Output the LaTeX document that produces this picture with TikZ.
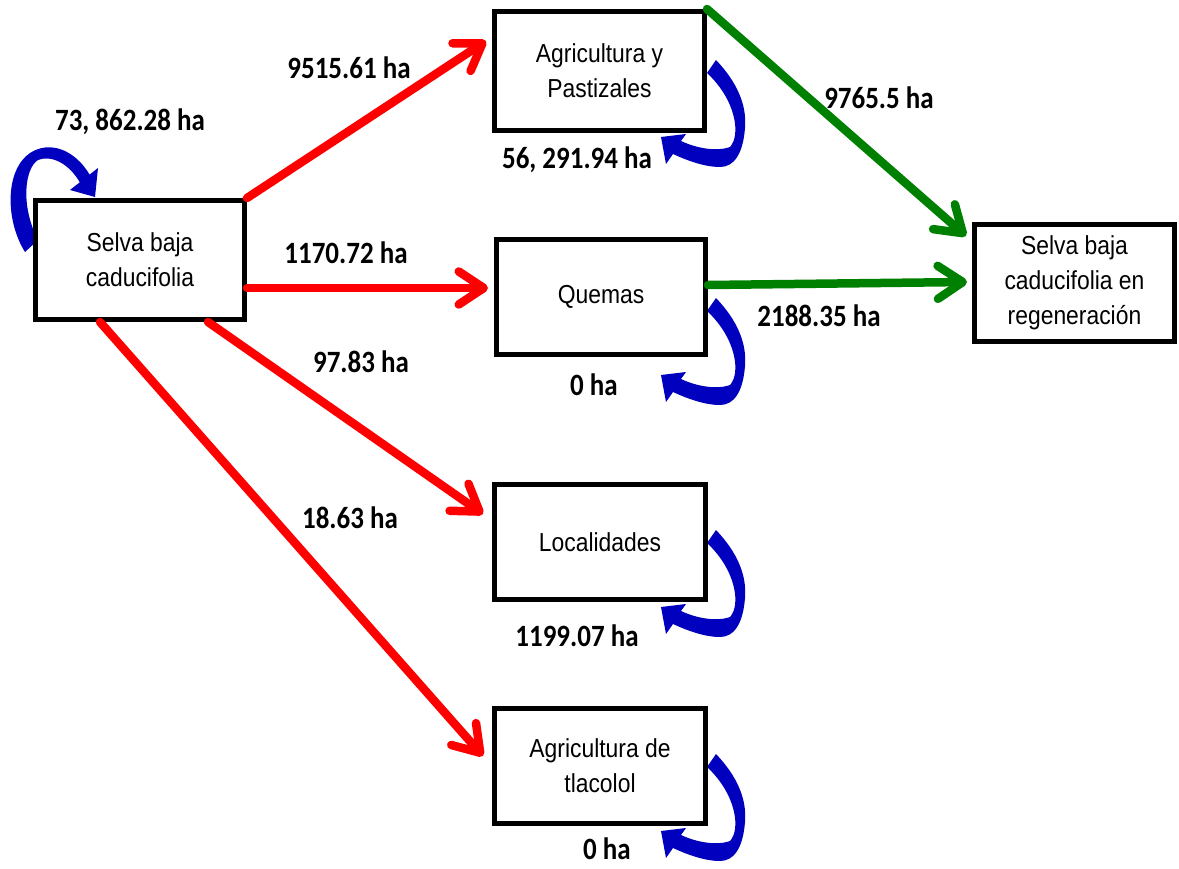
\documentclass[tikz,border=0pt]{standalone}
\usepackage{fontspec}
\setmainfont{Liberation Sans}[FakeStretch=0.88]
\newfontfamily\labelfont{Carlito}[FakeStretch=0.87]
\usetikzlibrary{arrows.meta,calc}
\definecolor{flowred}{RGB}{255,0,0}
\definecolor{flowgreen}{RGB}{0,128,0}
\definecolor{loopblue}{RGB}{0,0,190}
\tikzset{
  stage/.style={draw=black,line width=5pt,fill=white,align=center,
    font=\fontsize{26}{35}\selectfont,inner sep=0pt},
  flow/.style={line width=8.5pt,line cap=round,
    -{Straight Barb[length=25pt,width=33pt,round]}},
  loss/.style={flow,draw=flowred},
  gain/.style={flow,draw=flowgreen},
  amount/.style={font=\labelfont\bfseries\fontsize{31}{33}\selectfont,inner sep=0pt},
  persist/.pic={
    \fill[loopblue] (0,0) .. controls (21,22) and (31,45) .. (29,68)
      .. controls (27,94) and (18,107) .. (4,107)
      .. controls (-12,107) and (-30,100) .. (-43,94)
      -- (-50,104) -- (-55,77) -- (-30,74) -- (-35,81)
      .. controls (-20,88) and (0,92) .. (14,87)
      .. controls (25,75) and (20,40) .. (-9,13) -- cycle;
  }
}
\begin{document}
\begin{tikzpicture}[x=1pt,y=-1pt]
\useasboundingbox[fill=white] (0,0) rectangle (1179,869);

% self-persistence loops (drawn beneath the boxes)
\fill[loopblue] (25,252) .. controls (5,220) and (5,170) .. (30,153)
  .. controls (50,140) and (75,150) .. (89.6,174.6)
  -- (98,168) -- (95,197) -- (70,190) -- (79.8,182.3)
  .. controls (68,162) and (50,155) .. (38,160)
  .. controls (25,168) and (20,205) .. (38,240) -- cycle;
\pic at (716,60) {persist};
\pic at (716,298) {persist};
\pic at (716,530) {persist};
\pic at (716,754) {persist};

% land-cover classes
\node[stage,minimum width=209pt,minimum height=119pt] (S) at (140,260) {Selva baja\\caducifolia};
\node[stage,minimum width=210pt,minimum height=119pt] (A) at (599.5,71) {Agricultura y\\Pastizales};
\node[stage,minimum width=209pt,minimum height=115pt] (Q) at (601,297) {Quemas};
\node[stage,minimum width=211pt,minimum height=115pt] (L) at (600,542) {Localidades};
\node[stage,minimum width=211pt,minimum height=115pt] (T) at (600,766) {Agricultura de\\tlacolol};
\node[stage,minimum width=200pt,minimum height=117pt] (R) at (1074.5,283) {Selva baja\\caducifolia en\\regeneración};

% transitions
\draw[loss] (S.north east) -- ($(A.west)+(-6,-30)$);
\draw[loss] ($(S.east)+(0,28)$) -- ($(Q.west)+(-6,-9)$);
\draw[loss] ($(S.south)+(68,0)$) -- ($(L.west)+(-9,-28)$);
\draw[loss] ($(S.south)+(-40,0)$) -- ($(T.west)+(-9,-10)$);
\draw[gain] (A.north east) -- ($(R.west)+(-6,-47)$);
\draw[gain] ($(Q.east)+(0,-12)$) -- ($(R.west)+(-5,-1)$);

% areas
\node[amount] (aS) at (130,122) {73, 862.28 ha};
\node[amount] (aSA) at (349,68) {9515.61 ha};
\node[amount] (aA) at (577,160) {56, 291.94 ha};
\node[amount] (aAR) at (879,98) {9765.5 ha};
\node[amount] (aSQ) at (346,253) {1170.72 ha};
\node[amount] (aQR) at (819,316) {2188.35 ha};
\node[amount] (aSL) at (361,362) {97.83 ha};
\node[amount] (aQ) at (594,385) {0 ha};
\node[amount] (aST) at (350,518) {18.63 ha};
\node[amount] (aL) at (577,636) {1199.07 ha};
\node[amount] (aT) at (607,849) {0 ha};
\end{tikzpicture}
\end{document}
